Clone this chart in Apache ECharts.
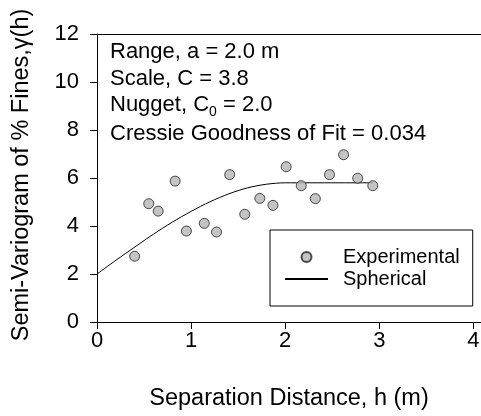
<!DOCTYPE html>
<html>
<head>
<meta charset="utf-8">
<script src="https://cdn.jsdelivr.net/npm/echarts@6/dist/echarts.min.js"></script>
<style>
  html, body { margin: 0; padding: 0; background: #fff; }
  #chart { width: 481px; height: 416px; }
</style>
</head>
<body>
<div id="chart"></div>
<script>
// Experimental semi-variogram of % fines
const distance = [0.40, 0.55, 0.65, 0.83, 0.95, 1.14, 1.27, 1.41, 1.57, 1.73, 1.87, 2.01, 2.17, 2.32, 2.47, 2.62, 2.77, 2.93];
const semivariance = [2.74, 4.93, 4.62, 5.87, 3.79, 4.11, 3.75, 6.14, 4.49, 5.15, 4.86, 6.47, 5.68, 5.14, 6.14, 6.97, 5.99, 5.68];

// Fitted spherical model curve
const modelDistance = [0, 0.2, 0.4, 0.6, 0.8, 1.0, 1.2, 1.4, 1.6, 1.8, 2.0, 2.93];
const modelGamma = [2.00, 2.57, 3.12, 3.66, 4.16, 4.61, 5.01, 5.34, 5.59, 5.74, 5.80, 5.80];

// Axis ticks
const xTicks = [0, 1, 2, 3, 4];
const yTicks = [0, 2, 4, 6, 8, 10, 12];

const FONT = 'Liberation Sans, Arial, Helvetica, sans-serif';

const experimentalData = distance.map((d, i) => [d, semivariance[i]]);
const sphericalData = modelDistance.map((d, i) => [d, modelGamma[i]]);

const chart = echarts.init(document.getElementById('chart'), null, { renderer: 'canvas' });

chart.setOption({
  animation: false,
  backgroundColor: '#fff',
  textStyle: { fontFamily: FONT },
  grid: { left: 97, right: 0, top: 34, bottom: 94, outerBoundsMode: 'none' },
  xAxis: [
    {
      type: 'value',
      position: 'bottom',
      min: 0,
      max: 4.08,
      splitLine: { show: false },
      axisLine: { show: true, onZero: false, lineStyle: { color: '#000', width: 1 } },
      axisTick: { show: true, inside: false, length: 7, customValues: xTicks, lineStyle: { color: '#000' } },
      axisLabel: { customValues: xTicks, fontSize: 22, color: '#000', margin: 8, fontFamily: FONT },
      name: 'Separation Distance, h (m)',
      nameLocation: 'middle',
      nameGap: 65,
      nameTextStyle: { fontSize: 23.5, color: '#000', fontFamily: FONT }
    },
    {
      type: 'value',
      position: 'top',
      min: 0,
      max: 4.08,
      splitLine: { show: false },
      axisLine: { show: true, onZero: false, lineStyle: { color: '#000', width: 1 } },
      axisTick: { show: false },
      axisLabel: { show: false }
    }
  ],
  yAxis: {
    type: 'value',
    min: 0,
    max: 12,
    interval: 2,
    splitLine: { show: false },
    axisLine: { show: true, onZero: false, lineStyle: { color: '#000', width: 1 } },
    axisTick: { show: true, inside: false, length: 7, customValues: yTicks, lineStyle: { color: '#000' } },
    axisLabel: { customValues: yTicks, fontSize: 22, color: '#000', margin: 18, fontFamily: FONT },
    name: 'Semi-Variogram of % Fines,γ(h)',
    nameLocation: 'middle',
    nameGap: 63,
    nameTextStyle: { fontSize: 23.5, color: '#000', fontFamily: FONT, padding: [0, 0, 0, 6] }
  },
  legend: {
    orient: 'vertical',
    left: 270,
    top: 230,
    padding: [17, 13, 17, 14],
    itemWidth: 43,
    itemHeight: 10,
    itemGap: 2,
    borderColor: '#000',
    borderWidth: 1,
    data: [
      { name: 'Experimental', icon: 'circle' },
      // plain line sample, no marker
      { name: 'Spherical', itemStyle: { opacity: 0 } }
    ],
    formatter: name => '{t|' + name + '}',
    textStyle: {
      fontSize: 20,
      lineHeight: 20,
      color: '#000',
      fontFamily: FONT,
      rich: { t: { fontSize: 20, lineHeight: 20, padding: [0, 0, 0, 10], color: '#000', fontFamily: FONT } }
    }
  },
  graphic: [
    { type: 'text', x: 110, y: 41, style: { text: 'Range, a = 2.0 m', fontSize: 22, fontFamily: FONT, fill: '#000', verticalAlign: 'top' } },
    { type: 'text', x: 110, y: 68, style: { text: 'Scale, C = 3.8', fontSize: 22, fontFamily: FONT, fill: '#000', verticalAlign: 'top' } },
    {
      type: 'text', x: 110, y: 94,
      style: {
        text: '{a|Nugget, C}{s|0}{a| = 2.0}',
        fontFamily: FONT, fill: '#000', verticalAlign: 'top',
        rich: {
          a: { fontSize: 22, lineHeight: 23, verticalAlign: 'top', fontFamily: FONT, color: '#000' },
          s: { fontSize: 14, lineHeight: 25, verticalAlign: 'bottom', fontFamily: FONT, color: '#000' }
        }
      }
    },
    { type: 'text', x: 110, y: 123, style: { text: 'Cressie Goodness of Fit = 0.034', fontSize: 22, fontFamily: FONT, fill: '#000', verticalAlign: 'top' } }
  ],
  series: [
    {
      name: 'Experimental',
      type: 'scatter',
      data: experimentalData,
      symbol: 'circle',
      symbolSize: 10,
      itemStyle: { color: '#b5b5b5', borderColor: '#222', borderWidth: 1 },
      z: 3
    },
    {
      name: 'Spherical',
      type: 'line',
      data: sphericalData,
      symbol: 'none',
      smooth: 0.3,
      lineStyle: { color: '#000', width: 1 },
      itemStyle: { color: '#000' },
      z: 2
    }
  ]
});
</script>
</body>
</html>
